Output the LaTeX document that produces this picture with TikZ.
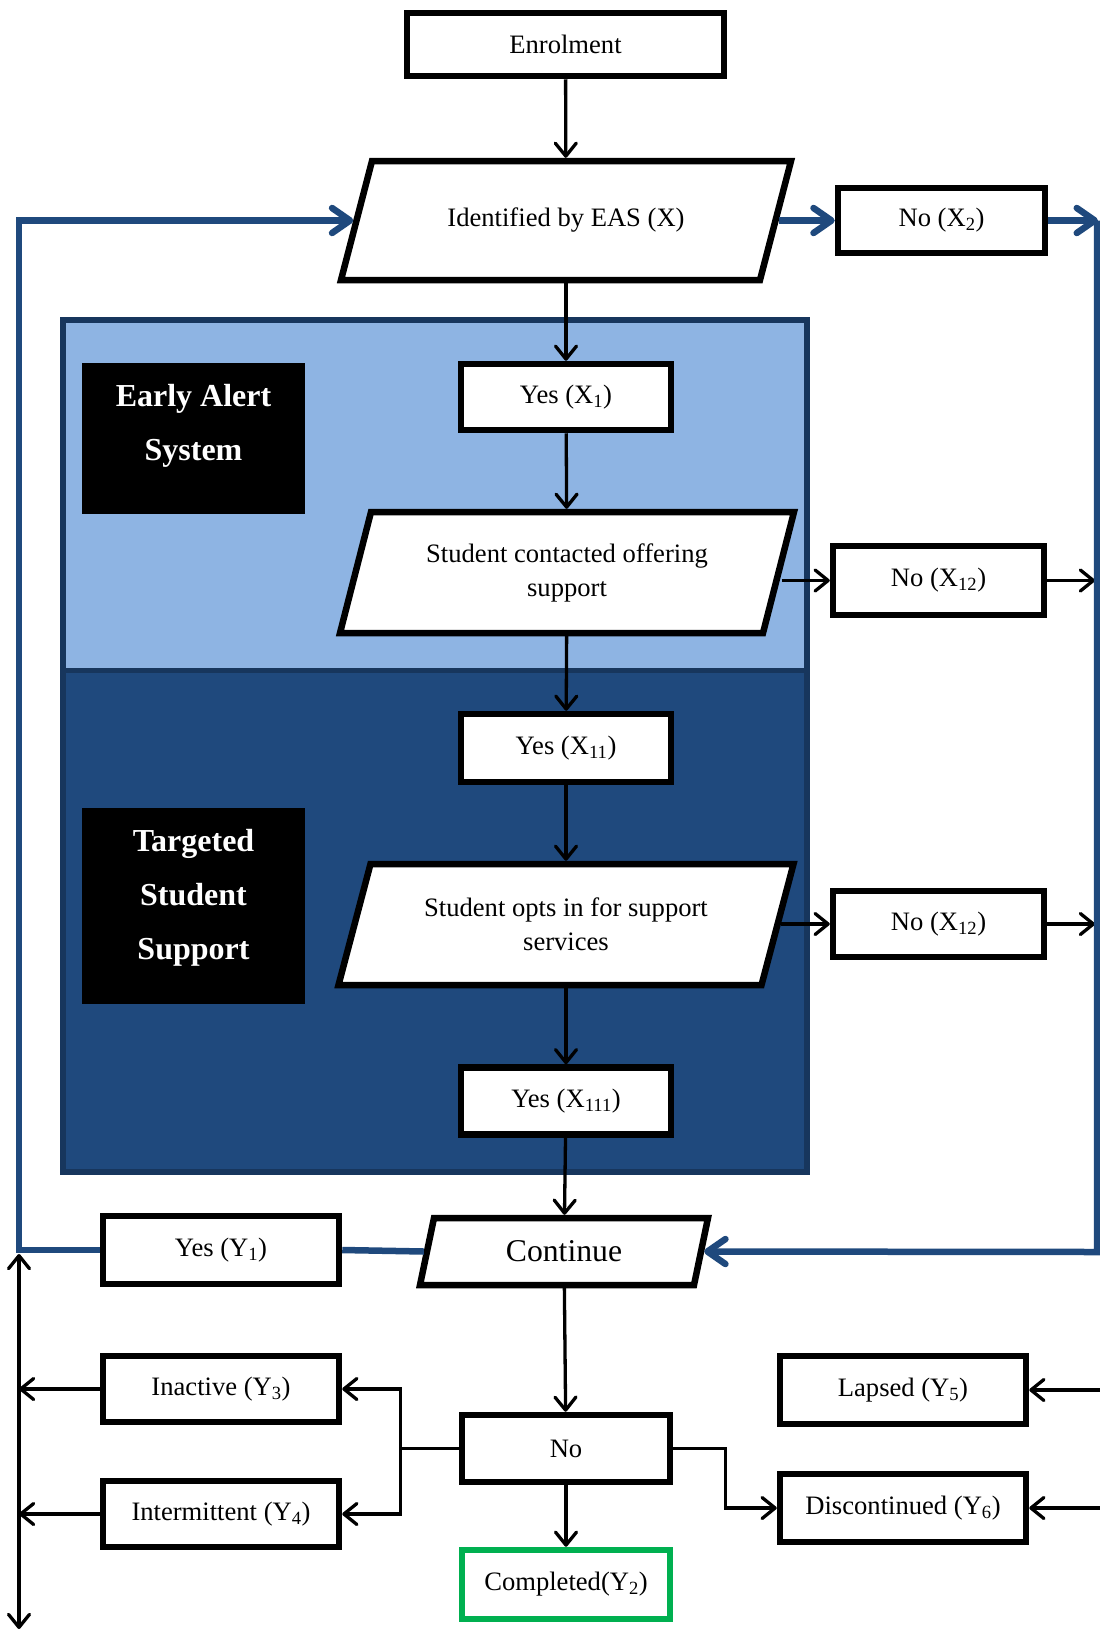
\documentclass[tikz,border=0pt]{standalone}
\usepackage{fontspec}
\setmainfont{Liberation Serif}
\usetikzlibrary{arrows.meta}

\definecolor{linkblue}{RGB}{31,73,125}
\definecolor{panellight}{RGB}{142,180,227}
\definecolor{paneldark}{RGB}{31,73,125}
\definecolor{panelrim}{RGB}{23,54,93}
\definecolor{donegreen}{RGB}{0,176,80}

\tikzset{
  box/.style={draw=black, line width=6.5pt, fill=white, inner sep=0pt,
    minimum width=210pt, minimum height=66pt,
    font=\fontsize{26.6}{32}\selectfont},
  paratext/.style={inner sep=0pt, outer sep=3.2pt, align=center,
    font=\fontsize{26.6}{34}\selectfont},
  parashape/.style={draw=black, line width=6.5pt, fill=white},
  blacktip/.tip={Straight Barb[length=13pt,width=21pt,round]},
  bluetip/.tip={Straight Barb[length=18pt,width=25pt,round]},
  flow/.style={draw=black, line width=3.3pt, -blacktip},
  flowboth/.style={draw=black, line width=3.3pt, blacktip-blacktip},
  bluearrow/.style={draw=linkblue, line width=6.5pt, -bluetip},
  blueline/.style={draw=linkblue, line width=6.5pt},
  tag/.style={fill=black, inner sep=0pt, minimum width=223pt},
  tagtext/.style={text=white, align=center, inner sep=0pt,
    font=\fontsize{32}{54}\selectfont\bfseries},
}

% parallelogram: name, centre x, centre y, mean width, height, half slant, text
\newcommand\paranode[7]{%
  \draw[parashape] ({#2-#4/2-#6},{#3+#5/2}) -- ({#2-#4/2+#6},{#3-#5/2})
    -- ({#2+#4/2+#6},{#3-#5/2}) -- ({#2+#4/2-#6},{#3+#5/2}) -- cycle;
  \node[paratext, minimum width=#4pt, minimum height=#5pt] (#1) at (#2,#3) {#7};
}

\begin{document}
\begin{tikzpicture}[x=1pt, y=-1pt]
\useasboundingbox (0,0) rectangle (1100,1631);

% the two shaded stages
\draw[panelrim, line width=6pt, fill=paneldark] (63,320) rectangle (807,1172);
\fill[panellight] (66,323) rectangle (804,670);
\draw[panelrim, line width=5pt] (63,670) -- (807,670);

% stage labels
\node[tag, minimum height=151pt] (eastag) at (193.5,438.5) {};
\node[tagtext] (eastext) at (193.5,426) {Early Alert\\System};
\node[tag, minimum height=196pt] (tsstag) at (193.5,906) {};
\node[tagtext] (tsstext) at (193.5,898) {Targeted\\Student\\Support};

% main column
\node[box, minimum width=317pt, minimum height=63pt] (enrol) at (565.5,44.5) {Enrolment};
\paranode{ident}{566}{220.5}{419}{119}{15.5}{Identified by EAS (X)}
\node[box, minimum width=207pt, minimum height=65pt] (nx2) at (941.5,220.5) {No (X\textsubscript{2})};

\node[box] (yx1) at (566,397) {Yes (X\textsubscript{1})};
\paranode{sc}{567}{572.5}{423}{121}{15.5}{Student contacted offering\\support}
\node[box, minimum width=211pt, minimum height=69pt] (nx12a) at (938.5,580.5) {No (X\textsubscript{12})};

\node[box, minimum height=68pt] (yx11) at (566,748) {Yes (X\textsubscript{11})};
\paranode{so}{566}{924.5}{423}{121}{16}{Student opts in for support\\services}
\node[box, minimum width=211pt, minimum height=66pt] (nx12b) at (938.5,924) {No (X\textsubscript{12})};

\node[box, minimum height=67pt] (yx111) at (566,1101) {Yes (X\textsubscript{111})};

\paranode{cont}{564}{1251.5}{274}{67}{7}{\fontsize{31.7}{36}\selectfont Continue}
\node[box, minimum width=236pt, minimum height=68pt] (yy1) at (221,1250) {Yes (Y\textsubscript{1})};

% outcomes
\node[box, minimum width=236pt] (inact) at (221,1389) {Inactive (Y\textsubscript{3})};
\node[box, minimum width=236pt] (interm) at (221,1514) {Intermittent (Y\textsubscript{4})};
\node[box, minimum width=208pt, minimum height=67pt] (no) at (566,1448.5) {No};
\node[box, draw=donegreen, minimum width=208pt, minimum height=69pt] (comp) at (566,1584.5) {Completed(Y\textsubscript{2})};
\node[box, minimum width=246pt, minimum height=68pt] (lapsed) at (903,1390) {Lapsed (Y\textsubscript{5})};
\node[box, minimum width=246pt, minimum height=68pt] (disc) at (903,1508) {Discontinued (Y\textsubscript{6})};

% free ends of the loop lines
\coordinate (ltop) at (19,220.5);
\coordinate (lbot) at (19,1250);
\coordinate (lstem) at (19,1254);
\coordinate (lend) at (19,1629);
\coordinate (rtip) at (1098,220.5);
\coordinate (rtop) at (1097,220.5);
\coordinate (rbot) at (1097,1252);
\coordinate (rx12a) at (1095,580.5);
\coordinate (rx12b) at (1095,924);
\coordinate (rlap) at (1100,1390);
\coordinate (rdisc) at (1100,1508);

% main flow
\draw[flow] (enrol) -- (ident);
\draw[flow] (ident) -- (yx1);
\draw[flow] (yx1) -- (sc);
\draw[flow] (sc) -- (yx11);
\draw[flow] (yx11) -- (so);
\draw[flow] (so) -- (yx111);
\draw[flow] (yx111) -- (cont);
\draw[flow] (cont) -- (no);
\draw[flow] (no) -- (comp);

% declined branches
\draw[flow] (sc.east |- nx12a.west) -- (nx12a.west);
\draw[flow] (nx12a.east) -- (rx12a);
\draw[flow] (so.east |- nx12b.west) -- (nx12b.west);
\draw[flow] (nx12b.east) -- (rx12b);

% blue loops
\draw[bluearrow] (ident.east) -- (nx2.west);
\draw[bluearrow] (nx2.east) -- (rtip);
\draw[bluearrow] (rtop) -- (rbot) -- (cont.east);
\draw[blueline] (cont.west) -- (yy1.east);
\draw[bluearrow] (yy1.west) -- (lbot) -- (ltop) -- (ident.west);

% outcome branches
\draw[flowboth] (lstem) -- (lend);
\draw[flow] (inact.west) -- (inact.west -| lstem);
\draw[flow] (interm.west) -- (interm.west -| lstem);
\draw[flow] (no.west) -- ++(-58,0) |- (inact.east);
\draw[flow] (no.west) -- ++(-58,0) |- (interm.east);
\draw[flow] (no.east) -- ++(52,0) |- (disc.west);
\draw[flow] (rlap) -- (lapsed.east);
\draw[flow] (rdisc) -- (disc.east);
\end{tikzpicture}
\end{document}
